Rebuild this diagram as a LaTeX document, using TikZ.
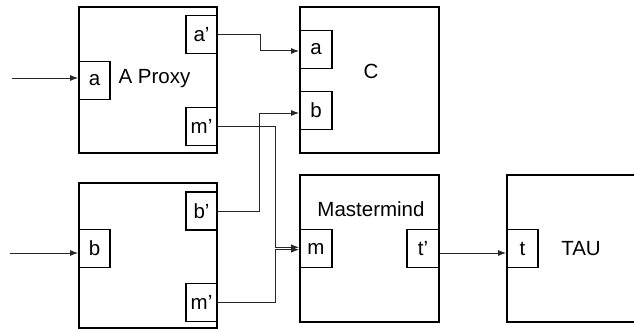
\documentclass[tikz,border=0pt]{standalone}
\usepackage{fontspec}
\setmainfont{Liberation Sans}
\usetikzlibrary{arrows.meta,calc}

\begin{document}
\begin{tikzpicture}[
    x=1pt, y=-1pt,
    font=\fontsize{20.5}{24}\selectfont,
    block/.style={rectangle, draw=black, line width=2pt, fill=white, minimum width=138pt, minimum height=146pt, inner sep=0pt},
    portbox/.style={rectangle, draw=black, line width=1.8pt, fill=white, minimum width=31pt, minimum height=38pt, inner sep=0pt},
    wirearrow/.style={-{Latex[length=8pt,width=6pt]}, line width=1pt, color=black!85},
    wire/.style={line width=1pt, color=black}
]
    \useasboundingbox (0,0) rectangle (634,329);
    \clip (0,0) rectangle (634,329);

    % Blocks
    \node[block] (PROXY) at (148,80) {};
    \node[block, minimum height=145pt] (BEE) at (148,255.5) {};
    \node[block, minimum width=139pt] (CEE) at (369.5,80) {};
    \node[block, minimum width=139pt, minimum height=147pt] (MIND) at (369.5,248.5) {};
    \node[block, minimum width=139pt, minimum height=147pt] (TAU) at (576.5,248.5) {};

    % Block labels
    \node at (154.5,79) {A Proxy};
    \node at (371,71.5) {C};
    \node at (371,209) {Mastermind};
    \node at (581,248.5) {TAU};

    % Ports
    \node[portbox] (pa) at (94.5,80.5) {a};
    \node[portbox] (pap) at (201.5,34.5) {a’};
    \node[portbox] (pmp) at (201.5,126.5) {m’};
    \node[portbox] (pb) at (94.5,248.5) {b};
    \node[portbox] (pbp) at (201.5,211) {b’};
    \node[portbox] (pmq) at (201.5,302.5) {m’};
    \node[portbox, minimum width=32pt] (ca) at (316,49.5) {a};
    \node[portbox, minimum width=32pt] (cb) at (316,110.5) {b};
    \node[portbox, minimum width=32pt] (mm) at (316,248.5) {m};
    \node[portbox, minimum width=32pt] (mt) at (423,248.5) {t’};
    \node[portbox] (tt) at (522.5,248.5) {t};

    % Inputs
    \coordinate (ina) at (12,78);
    \coordinate (inb) at (10,253);
    \draw[wirearrow] (ina) -- (ina -| pa.west);
    \draw[wirearrow] (inb) -- (inb -| pb.west);

    % Wires
    \draw[wirearrow] (pap.east) -- ++(43,0) |- ([yshift=-1.5pt]ca.west);
    \draw[wirearrow] (pbp.east) -- ++(42,0) |- ([yshift=-2.5pt]cb.west);
    \draw[wirearrow] (pmp.east) -- ++(58,0) |- ([yshift=1.2pt]mm.west);
    \draw[wirearrow] (pmq.east) -- ++(58,0) |- ([yshift=-1.2pt]mm.west);
    \draw[wirearrow] ([yshift=-4.5pt]mt.east) -- ([yshift=-4.5pt]tt.west);
\end{tikzpicture}
\end{document}
